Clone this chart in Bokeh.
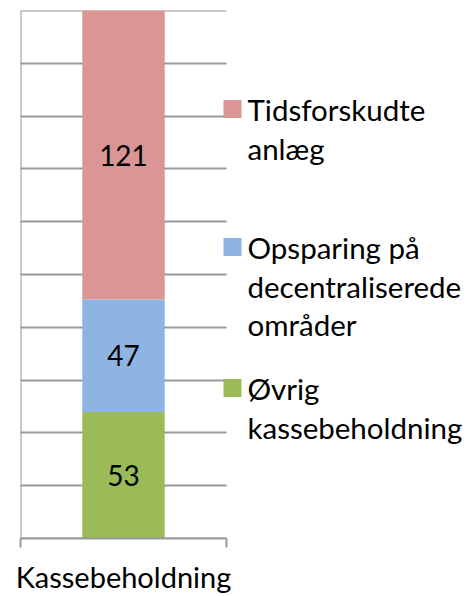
from bokeh.plotting import figure
from bokeh.models import (Range1d, FixedTicker, ColumnDataSource, LabelSet, Label,
                          BoxAnnotation, CustomLabelingPolicy, LinearAxis)
from bokeh.core.properties import value
from bokeh.embed import file_html
from bokeh.resources import INLINE

categories = ["Kassebeholdning"]
series = ["Øvrig kassebeholdning", "Opsparing på decentraliserede områder", "Tidsforskudte anlæg"]
legend_lines = [["Øvrig", "kassebeholdning"],
                ["Opsparing på", "decentraliserede", "områder"],
                ["Tidsforskudte", "anlæg"]]
values = [53, 47, 121]
colors = ["#9BBB59", "#8EB4E3", "#D99694"]

FONT = "Lato"
total = sum(values)

# layout (pixels)
W, H = 471, 596
LEFT, TOP, BOTTOM = 20, 10, 55
PLOT_W = 206                     # width of the category band (axis length)
frame_w = W - LEFT

p = figure(width=W, height=H, output_backend="svg", toolbar_location=None,
           x_range=Range1d(0, frame_w / PLOT_W), y_range=Range1d(0, total),
           min_border_left=LEFT, min_border_right=0, min_border_top=TOP, min_border_bottom=BOTTOM)
p.outline_line_color = None
p.background_fill_color = "white"
p.border_fill_color = "white"
p.grid.visible = False

cat_x = 0.5   # centre of the single category band [0, 1]
data = {"x": [cat_x]}
for s, v in zip(series, values):
    data[s] = [v]
src = ColumnDataSource(data)
renderers = p.vbar_stack(series, x="x", width=0.4, color=colors, line_color=None, source=src)

# data labels
mids = []
acc = 0
for v in values:
    mids.append(acc + v / 2)
    acc += v
lab_src = ColumnDataSource({"x": [cat_x] * len(values), "y": mids, "t": [str(v) for v in values]})
p.add_layout(LabelSet(x="x", y="y", text="t", source=lab_src, text_align="center",
                      text_baseline="middle", text_font=value(FONT), text_font_size="28px",
                      text_color="black"))

grey = "#999999"
hide_code = "const r = [...indices]; for (const i of r) indices.unset(i); return indices"

# y axis: its ticks run across the plot band and act as the gridlines (drawn under the bar)
p.yaxis.ticker = FixedTicker(ticks=[total * i / 10 for i in range(11)])
p.yaxis.minor_tick_line_color = None
p.yaxis.major_tick_out = 10
p.yaxis.major_tick_in = PLOT_W
p.yaxis.major_tick_line_color = grey
p.yaxis.major_tick_line_width = 2
p.yaxis.axis_line_color = grey
p.yaxis.axis_line_width = 2
p.yaxis.major_label_policy = CustomLabelingPolicy(code=hide_code)
p.yaxis.major_label_text_font_size = "0px"
p.yaxis.major_label_standoff = 0
p.yaxis.level = "underlay"

# x axis: line and the two boundary ticks of the category band
p.xaxis.ticker = FixedTicker(ticks=[0, 1])
p.xaxis.bounds = (0, 1)
p.xaxis.minor_tick_line_color = None
p.xaxis.major_tick_out = 9
p.xaxis.major_tick_in = 0
p.xaxis.major_tick_line_color = grey
p.xaxis.major_tick_line_width = 2
p.xaxis.axis_line_color = grey
p.xaxis.axis_line_width = 2
p.xaxis.major_label_policy = CustomLabelingPolicy(code=hide_code)
p.xaxis.major_label_text_font_size = "0px"
p.xaxis.major_label_standoff = 0

# category label, centred under the band
cat_axis = LinearAxis(ticker=FixedTicker(ticks=[cat_x]), bounds=(0, 1),
                      major_label_overrides={cat_x: categories[0]},
                      axis_line_color=None, major_tick_line_color=None, minor_tick_line_color=None,
                      major_tick_in=0, major_tick_out=0,
                      major_label_text_font=FONT, major_label_text_font_size="29px",
                      major_label_text_color="black", major_label_standoff=11)
p.add_layout(cat_axis, "below")

# legend drawn by hand (entries top to bottom = last series first);
# positions in screen pixels measured from the frame's bottom-left corner
order = [2, 1, 0]
first_baselines = [120, 258, 399]   # page y of each entry's first text line
line_step = 38.5
text_shift = 8
sw_left, sw_size, txt_x = 223, 18, 247
frame_bottom = H - BOTTOM
for k, idx in enumerate(order):
    b0 = first_baselines[k]
    top = b0 - 17.5
    p.add_layout(BoxAnnotation(left=sw_left - LEFT, right=sw_left - LEFT + sw_size,
                               top=frame_bottom - top, bottom=frame_bottom - top - sw_size,
                               left_units="screen", right_units="screen",
                               top_units="screen", bottom_units="screen",
                               fill_color=colors[idx], fill_alpha=1, line_color=None))
    for j, line in enumerate(legend_lines[idx]):
        p.add_layout(Label(x=txt_x - LEFT, y=frame_bottom - (b0 + j * line_step) + text_shift,
                           x_units="screen", y_units="screen",
                           text=line, text_font=FONT, text_font_size="29.5px",
                           text_color="black", text_baseline="alphabetic", text_align="left"))

open("out.html", "w").write(file_html(p, INLINE))
